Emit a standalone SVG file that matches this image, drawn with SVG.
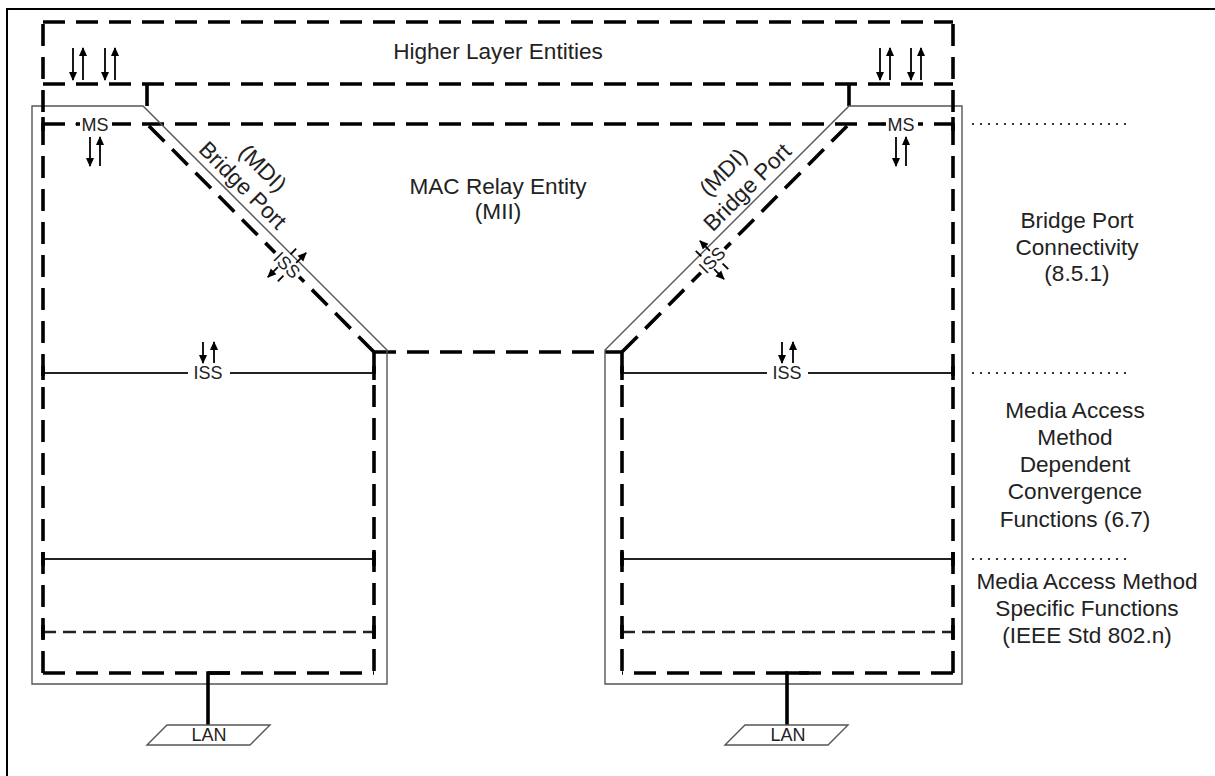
<svg xmlns="http://www.w3.org/2000/svg" width="1215" height="776" viewBox="0 0 1215 776">
<defs>
<marker id="ah" markerUnits="userSpaceOnUse" markerWidth="9" markerHeight="10" viewBox="0 0 10 10" refX="9" refY="5" orient="auto"><path d="M0,0.5 L10,5 L0,9.5 Z" fill="#000"/></marker>
<style>
.thk{fill:none;stroke:#000;stroke-width:3.6;stroke-dasharray:22 11}
.thn{fill:none;stroke:#555;stroke-width:1.4}
.sol{fill:none;stroke:#222;stroke-width:2}
.tick{fill:none;stroke:#000;stroke-width:3.6}
.fd{fill:none;stroke:#222;stroke-width:2.4;stroke-dasharray:13 7}
.dot{fill:none;stroke:#333;stroke-width:1.8;stroke-dasharray:2 6}
.arr{stroke:#000;stroke-width:1.8;marker-end:url(#ah)}
.ln{stroke:#000;stroke-width:1.8}
.t{font-family:"Liberation Sans",Arial,sans-serif;font-size:22.6px;fill:#222;text-anchor:middle}
.s{font-size:18px}
</style>
</defs>
<rect width="1215" height="776" fill="#fff"/>
<path d="M7,776 V9 H1215" fill="none" stroke="#000" stroke-width="2"/>

<g id="higher-layer-entities">
<path class="thk" d="M43,22 H953 M43,84 H953"/>
<path class="tick" d="M147,84 V106 M849,84 V106"/>
<text class="t" x="498" y="59">Higher Layer Entities</text>
</g>

<g id="mac-relay-entity">
<path class="thk" d="M43,124 H953 M374,352 H622"/>
<text class="t" x="498" y="194">MAC Relay Entity</text>
<text class="t" x="498" y="219">(MII)</text>
</g>

<g id="bridge-left">
<path class="thn" d="M32,106 H143 L387,350 V684 H32 Z"/>
<path class="thk" d="M374,352 L147,124 M374,352 V673 M43,673 H374 M43,673 V22"/>
<path class="sol" d="M43,373 H188 M230,373 H374 M43,559 H374"/>
<path class="fd" d="M43,632 H374"/>
<path class="tick" d="M43,366 V380 M374,366 V380 M43,552 V566 M374,552 V566 M43,625 V639 M374,625 V639 M43,117 V131"/>
<rect x="80" y="115" width="32" height="18" fill="#fff"/>
<circle cx="77" cy="124" r="1.6" fill="#000"/>
<text class="t s" x="95" y="131">MS</text>
<text class="t s" x="208" y="379">ISS</text>
<path d="M230,673 H208 V725" fill="none" stroke="#000" stroke-width="3.6"/>
<path class="thn" d="M147,745 L167,725 H270 L250,745 Z"/>
<text class="t s" x="209" y="741">LAN</text>
<text class="t" transform="translate(263,168) rotate(45)" y="8">(MDI)</text>
<text class="t" transform="translate(243,185) rotate(45)" y="8">Bridge Port</text>
<g transform="translate(287,265) rotate(45)">
<rect x="-17" y="-8.5" width="34" height="17" fill="#fff"/>
<text class="t s" x="0" y="6.5">ISS</text>
<line class="arr" x1="5" y1="-8" x2="5" y2="-22"/>
<line class="ln" x1="5" y1="10" x2="5" y2="18"/>
<line class="ln" x1="-5" y1="-18" x2="-5" y2="-10"/>
<line class="arr" x1="-5" y1="8" x2="-5" y2="22"/>
</g>
</g>

<g id="bridge-right">
<path class="thn" d="M849,106 H962 V684 H605 V350 Z"/>
<path class="thk" d="M622,352 L849,124 M622,352 V673 M953,673 H622 M953,673 V22"/>
<path class="sol" d="M622,373 H767 M808,373 H953 M622,559 H953"/>
<path class="fd" d="M622,632 H953"/>
<path class="tick" d="M622,366 V380 M953,366 V380 M622,552 V566 M953,552 V566 M622,625 V639 M953,625 V639 M953,117 V131"/>
<rect x="886" y="115" width="32" height="18" fill="#fff"/>
<circle cx="883" cy="124" r="1.6" fill="#000"/>
<text class="t s" x="901" y="131">MS</text>
<text class="t s" x="787" y="379">ISS</text>
<path d="M809,673 H787 V725" fill="none" stroke="#000" stroke-width="3.6"/>
<path class="thn" d="M725,745 L745,725 H848 L828,745 Z"/>
<text class="t s" x="788" y="741">LAN</text>
<text class="t" transform="translate(723,172) rotate(-45)" y="8">(MDI)</text>
<text class="t" transform="translate(747,187) rotate(-45)" y="8">Bridge Port</text>
<g transform="translate(712,260) rotate(-45)">
<rect x="-17" y="-8.5" width="34" height="17" fill="#fff"/>
<text class="t s" x="0" y="6.5">ISS</text>
<line class="arr" x1="5" y1="-8" x2="5" y2="-22"/>
<line class="ln" x1="5" y1="10" x2="5" y2="18"/>
<line class="ln" x1="-5" y1="-18" x2="-5" y2="-10"/>
<line class="arr" x1="-5" y1="8" x2="-5" y2="22"/>
</g>
</g>

<g id="connectors">
<line class="arr" x1="73" y1="48" x2="73" y2="80"/>
<line class="arr" x1="83" y1="80" x2="83" y2="48"/>
<line class="arr" x1="105" y1="48" x2="105" y2="80"/>
<line class="arr" x1="115" y1="80" x2="115" y2="48"/>
<line class="arr" x1="880" y1="48" x2="880" y2="80"/>
<line class="arr" x1="890" y1="80" x2="890" y2="48"/>
<line class="arr" x1="911" y1="48" x2="911" y2="80"/>
<line class="arr" x1="921" y1="80" x2="921" y2="48"/>
<line class="arr" x1="90" y1="137" x2="90" y2="166"/>
<line class="arr" x1="100" y1="166" x2="100" y2="137"/>
<line class="arr" x1="896" y1="137" x2="896" y2="166"/>
<line class="arr" x1="906" y1="166" x2="906" y2="137"/>
<line class="arr" x1="203" y1="342" x2="203" y2="363"/>
<line class="arr" x1="214" y1="363" x2="214" y2="342"/>
<line class="arr" x1="782" y1="342" x2="782" y2="363"/>
<line class="arr" x1="793" y1="363" x2="793" y2="342"/>
</g>

<g id="layer-labels">
<path class="dot" d="M972,124 H1132 M972,373 H1132 M972,559 H1132"/>
<text class="t" x="1077" y="228">Bridge Port</text>
<text class="t" x="1077" y="255">Connectivity</text>
<text class="t" x="1077" y="281">(8.5.1)</text>
<text class="t" x="1075" y="418">Media Access</text>
<text class="t" x="1075" y="445">Method</text>
<text class="t" x="1075" y="472">Dependent</text>
<text class="t" x="1075" y="499">Convergence</text>
<text class="t" x="1075" y="527">Functions (6.7)</text>
<text class="t" x="1087" y="589">Media Access Method</text>
<text class="t" x="1087" y="616">Specific Functions</text>
<text class="t" x="1087" y="643">(IEEE Std 802.n)</text>
</g>
</svg>
